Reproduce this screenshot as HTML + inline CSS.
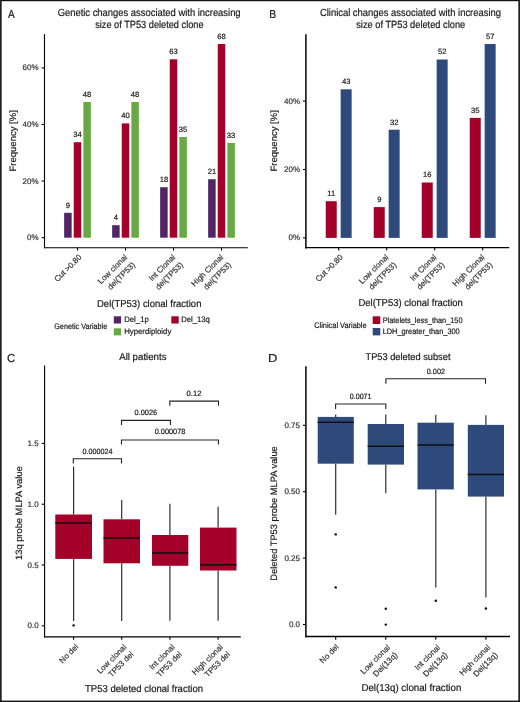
<!DOCTYPE html>
<html><head><meta charset="utf-8"><style>
html,body{margin:0;padding:0;background:#fff;width:520px;height:702px;overflow:hidden}
svg{display:block;will-change:transform}
text{font-family:"Liberation Sans",sans-serif;stroke:currentColor;stroke-width:0.2px;text-rendering:geometricPrecision}
</style></head><body>
<svg width="520" height="702" viewBox="0 0 520 702">
<rect x="0" y="0" width="520" height="702" fill="#fff"/>
<rect x="0.00" y="0.00" width="520.00" height="1.20" fill="#111"/>
<rect x="0.00" y="0.00" width="1.70" height="702.00" fill="#222"/>
<rect x="518.30" y="0.00" width="1.70" height="702.00" fill="#222"/>
<rect x="0.00" y="700.60" width="520.00" height="1.40" fill="#111"/>
<text x="8.08" y="17.50" font-size="11.6" text-anchor="start" fill="#1a1a1a" color="#1a1a1a" textLength="6.74" lengthAdjust="spacingAndGlyphs">A</text>
<text x="57.63" y="16.00" font-size="10.4" text-anchor="start" fill="#1a1a1a" color="#1a1a1a" textLength="182.98" lengthAdjust="spacingAndGlyphs">Genetic changes associated with increasing</text>
<text x="95.14" y="27.70" font-size="10.4" text-anchor="start" fill="#1a1a1a" color="#1a1a1a" textLength="108.47" lengthAdjust="spacingAndGlyphs">size of TP53 deleted clone</text>
<line x1="44.50" y1="34.10" x2="44.50" y2="248.20" stroke="#000000" stroke-width="1.1"/>
<line x1="44.00" y1="247.70" x2="247.80" y2="247.70" stroke="#000000" stroke-width="1.1"/>
<line x1="41.60" y1="237.70" x2="44.50" y2="237.70" stroke="#000000" stroke-width="1.1"/>
<text x="38.60" y="240.20" font-size="8.0" text-anchor="end" fill="#333333" color="#333333">0%</text>
<line x1="41.60" y1="181.10" x2="44.50" y2="181.10" stroke="#000000" stroke-width="1.1"/>
<text x="38.60" y="183.60" font-size="8.0" text-anchor="end" fill="#333333" color="#333333">20%</text>
<line x1="41.60" y1="124.50" x2="44.50" y2="124.50" stroke="#000000" stroke-width="1.1"/>
<text x="38.60" y="127.00" font-size="8.0" text-anchor="end" fill="#333333" color="#333333">40%</text>
<line x1="41.60" y1="67.90" x2="44.50" y2="67.90" stroke="#000000" stroke-width="1.1"/>
<text x="38.60" y="70.40" font-size="8.0" text-anchor="end" fill="#333333" color="#333333">60%</text>
<line x1="77.50" y1="247.70" x2="77.50" y2="250.50" stroke="#000000" stroke-width="1.1"/>
<line x1="125.50" y1="247.70" x2="125.50" y2="250.50" stroke="#000000" stroke-width="1.1"/>
<line x1="173.50" y1="247.70" x2="173.50" y2="250.50" stroke="#000000" stroke-width="1.1"/>
<line x1="221.50" y1="247.70" x2="221.50" y2="250.50" stroke="#000000" stroke-width="1.1"/>
<rect x="64.15" y="212.80" width="7.50" height="24.90" fill="#522565"/>
<text x="67.90" y="207.60" font-size="7.6" text-anchor="middle" fill="#1a1a1a" color="#1a1a1a">9</text>
<rect x="73.75" y="142.20" width="7.50" height="95.50" fill="#a3002a"/>
<text x="77.50" y="137.00" font-size="7.6" text-anchor="middle" fill="#1a1a1a" color="#1a1a1a">34</text>
<rect x="83.35" y="102.00" width="7.50" height="135.70" fill="#6aa843"/>
<text x="87.10" y="96.80" font-size="7.6" text-anchor="middle" fill="#1a1a1a" color="#1a1a1a">48</text>
<rect x="112.15" y="225.20" width="7.50" height="12.50" fill="#522565"/>
<text x="115.90" y="220.00" font-size="7.6" text-anchor="middle" fill="#1a1a1a" color="#1a1a1a">4</text>
<rect x="121.75" y="123.40" width="7.50" height="114.30" fill="#a3002a"/>
<text x="125.50" y="118.20" font-size="7.6" text-anchor="middle" fill="#1a1a1a" color="#1a1a1a">40</text>
<rect x="131.35" y="102.00" width="7.50" height="135.70" fill="#6aa843"/>
<text x="135.10" y="96.80" font-size="7.6" text-anchor="middle" fill="#1a1a1a" color="#1a1a1a">48</text>
<rect x="160.15" y="187.20" width="7.50" height="50.50" fill="#522565"/>
<text x="163.90" y="182.00" font-size="7.6" text-anchor="middle" fill="#1a1a1a" color="#1a1a1a">18</text>
<rect x="169.75" y="59.30" width="7.50" height="178.40" fill="#a3002a"/>
<text x="173.50" y="54.10" font-size="7.6" text-anchor="middle" fill="#1a1a1a" color="#1a1a1a">63</text>
<rect x="179.35" y="137.00" width="7.50" height="100.70" fill="#6aa843"/>
<text x="183.10" y="131.80" font-size="7.6" text-anchor="middle" fill="#1a1a1a" color="#1a1a1a">35</text>
<rect x="208.15" y="179.20" width="7.50" height="58.50" fill="#522565"/>
<text x="211.90" y="174.00" font-size="7.6" text-anchor="middle" fill="#1a1a1a" color="#1a1a1a">21</text>
<rect x="217.75" y="44.00" width="7.50" height="193.70" fill="#a3002a"/>
<text x="221.50" y="38.80" font-size="7.6" text-anchor="middle" fill="#1a1a1a" color="#1a1a1a">68</text>
<rect x="227.35" y="143.00" width="7.50" height="94.70" fill="#6aa843"/>
<text x="231.10" y="137.80" font-size="7.6" text-anchor="middle" fill="#1a1a1a" color="#1a1a1a">33</text>
<text x="0" y="0" transform="translate(16.07,171.48) rotate(-90)" font-size="9.2" text-anchor="start" fill="#1a1a1a" color="#1a1a1a" textLength="61.26" lengthAdjust="spacingAndGlyphs">Frequency [%]</text>
<text x="0" y="0" transform="translate(82.15,257.63) rotate(-45)" font-size="8.0" text-anchor="end" fill="#333333" color="#333333">Cut &gt;0.80</text>
<text x="0" y="0" transform="translate(127.85,257.70) rotate(-45)" font-size="8.0" text-anchor="end" fill="#333333" color="#333333">Low clonal</text>
<text x="0" y="0" transform="translate(135.56,265.41) rotate(-45)" font-size="8.0" text-anchor="end" fill="#333333" color="#333333">del(TP53)</text>
<text x="0" y="0" transform="translate(175.85,257.70) rotate(-45)" font-size="8.0" text-anchor="end" fill="#333333" color="#333333">Int Clonal</text>
<text x="0" y="0" transform="translate(183.56,265.41) rotate(-45)" font-size="8.0" text-anchor="end" fill="#333333" color="#333333">del(TP53)</text>
<text x="0" y="0" transform="translate(223.85,257.70) rotate(-45)" font-size="8.0" text-anchor="end" fill="#333333" color="#333333">High Clonal</text>
<text x="0" y="0" transform="translate(231.56,265.41) rotate(-45)" font-size="8.0" text-anchor="end" fill="#333333" color="#333333">del(TP53)</text>
<text x="97.02" y="306.50" font-size="10.0" text-anchor="start" fill="#1a1a1a" color="#1a1a1a" textLength="104.39" lengthAdjust="spacingAndGlyphs">Del(TP53) clonal fraction</text>
<text x="54.24" y="328.80" font-size="8.0" text-anchor="start" fill="#1a1a1a" color="#1a1a1a" textLength="52.98" lengthAdjust="spacingAndGlyphs">Genetic Variable</text>
<rect x="113.80" y="316.30" width="7.30" height="7.20" fill="#522565"/>
<text x="124.16" y="322.40" font-size="8.0" text-anchor="start" fill="#1a1a1a" color="#1a1a1a" textLength="24.67" lengthAdjust="spacingAndGlyphs">Del_1p</text>
<rect x="171.30" y="316.30" width="7.40" height="7.20" fill="#a3002a"/>
<text x="181.27" y="322.40" font-size="8.0" text-anchor="start" fill="#1a1a1a" color="#1a1a1a" textLength="28.62" lengthAdjust="spacingAndGlyphs">Del_13q</text>
<rect x="113.80" y="328.30" width="7.30" height="7.10" fill="#6aa843"/>
<text x="124.16" y="333.50" font-size="8.0" text-anchor="start" fill="#1a1a1a" color="#1a1a1a" textLength="47.15" lengthAdjust="spacingAndGlyphs">Hyperdiploidy</text>
<text x="269.15" y="18.00" font-size="11.6" text-anchor="start" fill="#1a1a1a" color="#1a1a1a" textLength="6.89" lengthAdjust="spacingAndGlyphs">B</text>
<text x="319.92" y="15.90" font-size="10.4" text-anchor="start" fill="#1a1a1a" color="#1a1a1a" textLength="181.09" lengthAdjust="spacingAndGlyphs">Clinical changes associated with increasing</text>
<text x="356.24" y="27.70" font-size="10.4" text-anchor="start" fill="#1a1a1a" color="#1a1a1a" textLength="108.97" lengthAdjust="spacingAndGlyphs">size of TP53 deleted clone</text>
<line x1="305.90" y1="34.20" x2="305.90" y2="248.40" stroke="#000000" stroke-width="1.5"/>
<line x1="305.20" y1="247.70" x2="509.20" y2="247.70" stroke="#000000" stroke-width="1.3"/>
<line x1="303.00" y1="237.90" x2="306.00" y2="237.90" stroke="#000000" stroke-width="1.1"/>
<text x="300.00" y="240.40" font-size="8.0" text-anchor="end" fill="#333333" color="#333333">0%</text>
<line x1="303.00" y1="169.50" x2="306.00" y2="169.50" stroke="#000000" stroke-width="1.1"/>
<text x="300.00" y="172.00" font-size="8.0" text-anchor="end" fill="#333333" color="#333333">20%</text>
<line x1="303.00" y1="101.10" x2="306.00" y2="101.10" stroke="#000000" stroke-width="1.1"/>
<text x="300.00" y="103.60" font-size="8.0" text-anchor="end" fill="#333333" color="#333333">40%</text>
<line x1="338.70" y1="247.70" x2="338.70" y2="250.50" stroke="#000000" stroke-width="1.1"/>
<line x1="386.70" y1="247.70" x2="386.70" y2="250.50" stroke="#000000" stroke-width="1.1"/>
<line x1="434.70" y1="247.70" x2="434.70" y2="250.50" stroke="#000000" stroke-width="1.1"/>
<line x1="482.70" y1="247.70" x2="482.70" y2="250.50" stroke="#000000" stroke-width="1.1"/>
<rect x="325.75" y="201.20" width="11.00" height="36.70" fill="#a3002a"/>
<text x="331.25" y="196.00" font-size="7.6" text-anchor="middle" fill="#1a1a1a" color="#1a1a1a">11</text>
<rect x="340.65" y="89.30" width="11.00" height="148.60" fill="#2e4a7b"/>
<text x="346.15" y="84.10" font-size="7.6" text-anchor="middle" fill="#1a1a1a" color="#1a1a1a">43</text>
<rect x="373.75" y="207.10" width="11.00" height="30.80" fill="#a3002a"/>
<text x="379.25" y="201.90" font-size="7.6" text-anchor="middle" fill="#1a1a1a" color="#1a1a1a">9</text>
<rect x="388.65" y="129.70" width="11.00" height="108.20" fill="#2e4a7b"/>
<text x="394.15" y="124.50" font-size="7.6" text-anchor="middle" fill="#1a1a1a" color="#1a1a1a">32</text>
<rect x="421.75" y="182.50" width="11.00" height="55.40" fill="#a3002a"/>
<text x="427.25" y="177.30" font-size="7.6" text-anchor="middle" fill="#1a1a1a" color="#1a1a1a">16</text>
<rect x="436.65" y="59.50" width="11.00" height="178.40" fill="#2e4a7b"/>
<text x="442.15" y="54.30" font-size="7.6" text-anchor="middle" fill="#1a1a1a" color="#1a1a1a">52</text>
<rect x="469.75" y="117.90" width="11.00" height="120.00" fill="#a3002a"/>
<text x="475.25" y="112.70" font-size="7.6" text-anchor="middle" fill="#1a1a1a" color="#1a1a1a">35</text>
<rect x="484.65" y="44.00" width="11.00" height="193.90" fill="#2e4a7b"/>
<text x="490.15" y="38.80" font-size="7.6" text-anchor="middle" fill="#1a1a1a" color="#1a1a1a">57</text>
<text x="0" y="0" transform="translate(277.27,171.48) rotate(-90)" font-size="9.2" text-anchor="start" fill="#1a1a1a" color="#1a1a1a" textLength="61.26" lengthAdjust="spacingAndGlyphs">Frequency [%]</text>
<text x="0" y="0" transform="translate(343.35,257.63) rotate(-45)" font-size="8.0" text-anchor="end" fill="#333333" color="#333333">Cut &gt;0.80</text>
<text x="0" y="0" transform="translate(389.05,257.70) rotate(-45)" font-size="8.0" text-anchor="end" fill="#333333" color="#333333">Low clonal</text>
<text x="0" y="0" transform="translate(396.76,265.41) rotate(-45)" font-size="8.0" text-anchor="end" fill="#333333" color="#333333">del(TP53)</text>
<text x="0" y="0" transform="translate(437.05,257.70) rotate(-45)" font-size="8.0" text-anchor="end" fill="#333333" color="#333333">Int Clonal</text>
<text x="0" y="0" transform="translate(444.76,265.41) rotate(-45)" font-size="8.0" text-anchor="end" fill="#333333" color="#333333">del(TP53)</text>
<text x="0" y="0" transform="translate(485.05,257.70) rotate(-45)" font-size="8.0" text-anchor="end" fill="#333333" color="#333333">High Clonal</text>
<text x="0" y="0" transform="translate(492.76,265.41) rotate(-45)" font-size="8.0" text-anchor="end" fill="#333333" color="#333333">del(TP53)</text>
<text x="358.42" y="306.30" font-size="10.0" text-anchor="start" fill="#1a1a1a" color="#1a1a1a" textLength="104.50" lengthAdjust="spacingAndGlyphs">Del(TP53) clonal fraction</text>
<text x="314.23" y="327.80" font-size="8.0" text-anchor="start" fill="#1a1a1a" color="#1a1a1a" textLength="52.40" lengthAdjust="spacingAndGlyphs">Clinical Variable</text>
<rect x="372.70" y="316.30" width="7.60" height="7.70" fill="#a3002a"/>
<text x="382.70" y="323.10" font-size="8.0" text-anchor="start" fill="#1a1a1a" color="#1a1a1a" textLength="79.79" lengthAdjust="spacingAndGlyphs">Platelets_less_than_150</text>
<rect x="372.70" y="328.00" width="7.60" height="7.40" fill="#2e4a7b"/>
<text x="382.70" y="333.70" font-size="8.0" text-anchor="start" fill="#1a1a1a" color="#1a1a1a" textLength="76.99" lengthAdjust="spacingAndGlyphs">LDH_greater_than_300</text>
<text x="7.12" y="361.80" font-size="11.6" text-anchor="start" fill="#1a1a1a" color="#1a1a1a" textLength="8.21" lengthAdjust="spacingAndGlyphs">C</text>
<text x="119.18" y="360.20" font-size="9.8" text-anchor="start" fill="#1a1a1a" color="#1a1a1a" textLength="47.37" lengthAdjust="spacingAndGlyphs">All patients</text>
<line x1="44.60" y1="365.60" x2="44.60" y2="637.40" stroke="#000000" stroke-width="1.1"/>
<line x1="44.10" y1="636.90" x2="240.80" y2="636.90" stroke="#000000" stroke-width="1.1"/>
<line x1="41.70" y1="625.80" x2="44.60" y2="625.80" stroke="#000000" stroke-width="1.1"/>
<text x="38.60" y="628.30" font-size="8.0" text-anchor="end" fill="#333333" color="#333333">0.0</text>
<line x1="41.70" y1="565.00" x2="44.60" y2="565.00" stroke="#000000" stroke-width="1.1"/>
<text x="38.60" y="567.50" font-size="8.0" text-anchor="end" fill="#333333" color="#333333">0.5</text>
<line x1="41.70" y1="504.20" x2="44.60" y2="504.20" stroke="#000000" stroke-width="1.1"/>
<text x="38.60" y="506.70" font-size="8.0" text-anchor="end" fill="#333333" color="#333333">1.0</text>
<line x1="41.70" y1="443.40" x2="44.60" y2="443.40" stroke="#000000" stroke-width="1.1"/>
<text x="38.60" y="445.90" font-size="8.0" text-anchor="end" fill="#333333" color="#333333">1.5</text>
<line x1="73.60" y1="636.90" x2="73.60" y2="639.70" stroke="#000000" stroke-width="1.1"/>
<line x1="121.70" y1="636.90" x2="121.70" y2="639.70" stroke="#000000" stroke-width="1.1"/>
<line x1="169.90" y1="636.90" x2="169.90" y2="639.70" stroke="#000000" stroke-width="1.1"/>
<line x1="218.10" y1="636.90" x2="218.10" y2="639.70" stroke="#000000" stroke-width="1.1"/>
<line x1="73.60" y1="466.60" x2="73.60" y2="514.50" stroke="#262626" stroke-width="1.15"/>
<line x1="73.60" y1="558.90" x2="73.60" y2="620.90" stroke="#262626" stroke-width="1.15"/>
<rect x="55.30" y="514.50" width="36.70" height="44.40" fill="#a3002a"/>
<line x1="55.30" y1="523.10" x2="92.00" y2="523.10" stroke="#111" stroke-width="1.5"/>
<circle cx="73.60" cy="625.40" r="1.2" fill="#000"/>
<line x1="121.70" y1="500.00" x2="121.70" y2="519.30" stroke="#262626" stroke-width="1.15"/>
<line x1="121.70" y1="563.30" x2="121.70" y2="620.90" stroke="#262626" stroke-width="1.15"/>
<rect x="103.50" y="519.30" width="36.50" height="44.00" fill="#a3002a"/>
<line x1="103.50" y1="538.10" x2="140.00" y2="538.10" stroke="#111" stroke-width="1.5"/>
<line x1="169.90" y1="503.80" x2="169.90" y2="535.00" stroke="#262626" stroke-width="1.15"/>
<line x1="169.90" y1="565.80" x2="169.90" y2="620.80" stroke="#262626" stroke-width="1.15"/>
<rect x="152.00" y="535.00" width="36.30" height="30.80" fill="#a3002a"/>
<line x1="152.00" y1="553.00" x2="188.30" y2="553.00" stroke="#111" stroke-width="1.5"/>
<line x1="218.10" y1="506.80" x2="218.10" y2="527.60" stroke="#262626" stroke-width="1.15"/>
<line x1="218.10" y1="570.50" x2="218.10" y2="620.80" stroke="#262626" stroke-width="1.15"/>
<rect x="200.00" y="527.60" width="36.50" height="42.90" fill="#a3002a"/>
<line x1="200.00" y1="564.80" x2="236.50" y2="564.80" stroke="#111" stroke-width="1.5"/>
<path d="M73.30,463.40 V458.80 H121.50 V463.40" fill="none" stroke="#222" stroke-width="1.1"/>
<text x="82.62" y="453.50" font-size="7.6" text-anchor="start" fill="#1a1a1a" color="#1a1a1a" textLength="29.99" lengthAdjust="spacingAndGlyphs">0.000024</text>
<path d="M121.50,425.00 V420.40 H170.50 V425.00" fill="none" stroke="#222" stroke-width="1.1"/>
<text x="134.61" y="415.30" font-size="7.6" text-anchor="start" fill="#1a1a1a" color="#1a1a1a" textLength="22.51" lengthAdjust="spacingAndGlyphs">0.0026</text>
<path d="M121.50,444.60 V440.00 H218.50 V444.60" fill="none" stroke="#222" stroke-width="1.1"/>
<text x="154.71" y="434.40" font-size="7.6" text-anchor="start" fill="#1a1a1a" color="#1a1a1a" textLength="30.61" lengthAdjust="spacingAndGlyphs">0.000078</text>
<path d="M169.80,405.70 V401.10 H218.50 V405.70" fill="none" stroke="#222" stroke-width="1.1"/>
<text x="186.60" y="396.20" font-size="7.6" text-anchor="start" fill="#1a1a1a" color="#1a1a1a" textLength="14.78" lengthAdjust="spacingAndGlyphs">0.12</text>
<text x="0" y="0" transform="translate(21.87,560.00) rotate(-90)" font-size="9.2" text-anchor="start" fill="#1a1a1a" color="#1a1a1a" textLength="93.71" lengthAdjust="spacingAndGlyphs">13q probe MLPA value</text>
<text x="0" y="0" transform="translate(78.85,647.33) rotate(-45)" font-size="8.0" text-anchor="end" fill="#333333" color="#333333">No del</text>
<text x="0" y="0" transform="translate(126.95,647.60) rotate(-45)" font-size="8.0" text-anchor="end" fill="#333333" color="#333333">Low clonal</text>
<text x="0" y="0" transform="translate(134.09,654.74) rotate(-45)" font-size="8.0" text-anchor="end" fill="#333333" color="#333333">TP53 del</text>
<text x="0" y="0" transform="translate(175.15,647.60) rotate(-45)" font-size="8.0" text-anchor="end" fill="#333333" color="#333333">Int clonal</text>
<text x="0" y="0" transform="translate(182.29,654.74) rotate(-45)" font-size="8.0" text-anchor="end" fill="#333333" color="#333333">TP53 del</text>
<text x="0" y="0" transform="translate(223.35,647.60) rotate(-45)" font-size="8.0" text-anchor="end" fill="#333333" color="#333333">High clonal</text>
<text x="0" y="0" transform="translate(230.49,654.74) rotate(-45)" font-size="8.0" text-anchor="end" fill="#333333" color="#333333">TP53 del</text>
<text x="84.99" y="692.20" font-size="10.0" text-anchor="start" fill="#1a1a1a" color="#1a1a1a" textLength="118.03" lengthAdjust="spacingAndGlyphs">TP53 deleted clonal fraction</text>
<text x="268.13" y="362.30" font-size="11.6" text-anchor="start" fill="#1a1a1a" color="#1a1a1a" textLength="9.39" lengthAdjust="spacingAndGlyphs">D</text>
<text x="365.49" y="360.10" font-size="9.8" text-anchor="start" fill="#1a1a1a" color="#1a1a1a" textLength="84.98" lengthAdjust="spacingAndGlyphs">TP53 deleted subset</text>
<line x1="305.90" y1="366.20" x2="305.90" y2="637.30" stroke="#000000" stroke-width="1.5"/>
<line x1="305.20" y1="636.60" x2="510.00" y2="636.60" stroke="#000000" stroke-width="1.5"/>
<line x1="303.00" y1="624.50" x2="306.00" y2="624.50" stroke="#000000" stroke-width="1.1"/>
<text x="300.00" y="627.00" font-size="8.0" text-anchor="end" fill="#333333" color="#333333">0.0</text>
<line x1="303.00" y1="558.10" x2="306.00" y2="558.10" stroke="#000000" stroke-width="1.1"/>
<text x="300.00" y="560.60" font-size="8.0" text-anchor="end" fill="#333333" color="#333333">0.25</text>
<line x1="303.00" y1="491.70" x2="306.00" y2="491.70" stroke="#000000" stroke-width="1.1"/>
<text x="300.00" y="494.20" font-size="8.0" text-anchor="end" fill="#333333" color="#333333">0.50</text>
<line x1="303.00" y1="425.30" x2="306.00" y2="425.30" stroke="#000000" stroke-width="1.1"/>
<text x="300.00" y="427.80" font-size="8.0" text-anchor="end" fill="#333333" color="#333333">0.75</text>
<line x1="335.70" y1="636.90" x2="335.70" y2="639.70" stroke="#000000" stroke-width="1.1"/>
<line x1="385.80" y1="636.90" x2="385.80" y2="639.70" stroke="#000000" stroke-width="1.1"/>
<line x1="435.80" y1="636.90" x2="435.80" y2="639.70" stroke="#000000" stroke-width="1.1"/>
<line x1="485.90" y1="636.90" x2="485.90" y2="639.70" stroke="#000000" stroke-width="1.1"/>
<line x1="335.70" y1="414.60" x2="335.70" y2="416.90" stroke="#262626" stroke-width="1.15"/>
<line x1="335.70" y1="463.70" x2="335.70" y2="514.80" stroke="#262626" stroke-width="1.15"/>
<rect x="317.70" y="416.90" width="36.10" height="46.80" fill="#2e4a7b"/>
<line x1="317.70" y1="422.30" x2="353.80" y2="422.30" stroke="#111" stroke-width="1.5"/>
<circle cx="335.70" cy="534.40" r="1.2" fill="#000"/>
<circle cx="335.70" cy="587.40" r="1.2" fill="#000"/>
<line x1="385.80" y1="414.60" x2="385.80" y2="424.00" stroke="#262626" stroke-width="1.15"/>
<line x1="385.80" y1="464.60" x2="385.80" y2="493.30" stroke="#262626" stroke-width="1.15"/>
<rect x="367.70" y="424.00" width="36.30" height="40.60" fill="#2e4a7b"/>
<line x1="367.70" y1="446.20" x2="404.00" y2="446.20" stroke="#111" stroke-width="1.5"/>
<circle cx="385.80" cy="608.70" r="1.2" fill="#000"/>
<circle cx="385.80" cy="624.60" r="1.2" fill="#000"/>
<line x1="435.80" y1="414.70" x2="435.80" y2="422.70" stroke="#262626" stroke-width="1.15"/>
<line x1="435.80" y1="489.40" x2="435.80" y2="587.40" stroke="#262626" stroke-width="1.15"/>
<rect x="417.50" y="422.70" width="36.30" height="66.70" fill="#2e4a7b"/>
<line x1="417.50" y1="445.10" x2="453.80" y2="445.10" stroke="#111" stroke-width="1.5"/>
<circle cx="435.80" cy="600.70" r="1.2" fill="#000"/>
<line x1="485.90" y1="415.20" x2="485.90" y2="424.90" stroke="#262626" stroke-width="1.15"/>
<line x1="485.90" y1="496.60" x2="485.90" y2="597.40" stroke="#262626" stroke-width="1.15"/>
<rect x="467.80" y="424.90" width="36.20" height="71.70" fill="#2e4a7b"/>
<line x1="467.80" y1="474.40" x2="504.00" y2="474.40" stroke="#111" stroke-width="1.5"/>
<circle cx="485.90" cy="608.50" r="1.2" fill="#000"/>
<path d="M335.60,409.00 V404.00 H385.80 V409.00" fill="none" stroke="#222" stroke-width="1.1"/>
<text x="349.72" y="398.80" font-size="7.6" text-anchor="start" fill="#1a1a1a" color="#1a1a1a" textLength="21.83" lengthAdjust="spacingAndGlyphs">0.0071</text>
<path d="M385.90,383.80 V378.80 H485.50 V383.80" fill="none" stroke="#222" stroke-width="1.1"/>
<text x="426.82" y="374.00" font-size="7.6" text-anchor="start" fill="#1a1a1a" color="#1a1a1a" textLength="18.15" lengthAdjust="spacingAndGlyphs">0.002</text>
<text x="0" y="0" transform="translate(277.04,580.65) rotate(-90)" font-size="9.3" text-anchor="start" fill="#1a1a1a" color="#1a1a1a" textLength="134.36" lengthAdjust="spacingAndGlyphs">Deleted TP53 probe MLPA value</text>
<text x="0" y="0" transform="translate(339.20,647.40) rotate(-45)" font-size="8.0" text-anchor="end" fill="#333333" color="#333333">No del</text>
<text x="0" y="0" transform="translate(390.55,648.00) rotate(-45)" font-size="8.0" text-anchor="end" fill="#333333" color="#333333">Low clonal</text>
<text x="0" y="0" transform="translate(398.01,655.46) rotate(-45)" font-size="8.0" text-anchor="end" fill="#333333" color="#333333">Del(13q)</text>
<text x="0" y="0" transform="translate(440.55,648.00) rotate(-45)" font-size="8.0" text-anchor="end" fill="#333333" color="#333333">Int clonal</text>
<text x="0" y="0" transform="translate(448.01,655.46) rotate(-45)" font-size="8.0" text-anchor="end" fill="#333333" color="#333333">Del(13q)</text>
<text x="0" y="0" transform="translate(490.65,648.00) rotate(-45)" font-size="8.0" text-anchor="end" fill="#333333" color="#333333">High clonal</text>
<text x="0" y="0" transform="translate(498.11,655.46) rotate(-45)" font-size="8.0" text-anchor="end" fill="#333333" color="#333333">Del(13q)</text>
<text x="361.40" y="691.30" font-size="10.0" text-anchor="start" fill="#1a1a1a" color="#1a1a1a" textLength="99.93" lengthAdjust="spacingAndGlyphs">Del(13q) clonal fraction</text>
</svg></body></html>
